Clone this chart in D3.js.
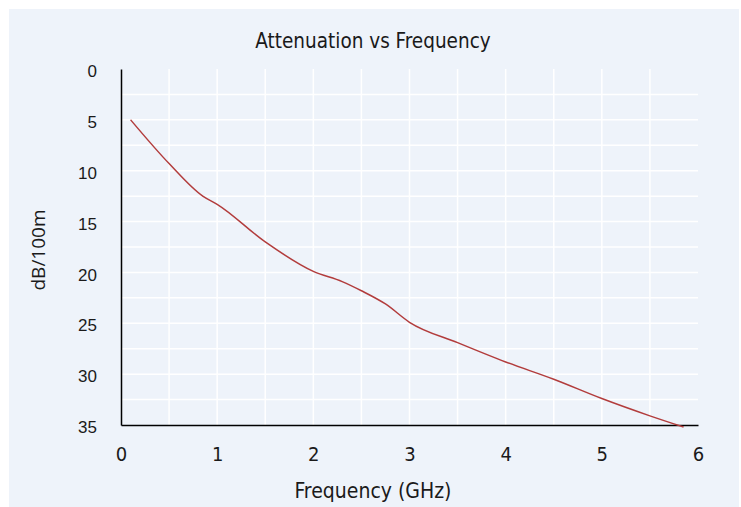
<!DOCTYPE html>
<html>
  <head>
    <meta charset="utf-8">
    <style type="text/css">
      body { margin: 0; background: #ffffff; }
      svg { display: block; }
      .title, .xlab, .x.axis text {
        font-family: "DejaVu Sans", sans-serif;
        font-stretch: condensed;
        fill: #1a1a1a;
      }
      .y.axis text {
        font-family: "Liberation Sans", Arial, sans-serif;
        fill: #1a1a1a;
      }
      .ylab {
        font-family: "Open Sans", sans-serif;
        fill: #1a1a1a;
      }
      .grid line { stroke: #ffffff; stroke-width: 1.5px; }
    </style>
  </head>
  <body>
    <script src="https://cdn.jsdelivr.net/npm/d3@7"></script>
    <svg id="chart"></svg>
    <script type="text/javascript">
// frequency in GHz, attenuation in dB/100m
var freq = [0.1, 0.5, 0.85, 1.0, 1.5, 2.0, 2.3, 2.5, 2.75, 3.0, 3.5, 4.0, 4.5, 5.0, 5.5, 5.85];
var atten = [5.0, 9.3, 12.5, 13.3, 17.0, 19.9, 20.9, 21.8, 23.1, 24.9, 26.9, 28.8, 30.5, 32.4, 34.1, 35.2];
var xTicks = [0, 1, 2, 3, 4, 5, 6];
var yTicks = [0, 5, 10, 15, 20, 25, 30, 35];

var width = 741, height = 507;
var margin = { top: 69, right: 43, bottom: 82, left: 121 };
var w = width - margin.left - margin.right;
var h = height - margin.top - margin.bottom;

var root = d3.select("#chart")
  .attr("width", width)
  .attr("height", height);

root.append("rect")
  .attr("x", 9).attr("y", 9)
  .attr("width", 730).attr("height", 498)
  .attr("fill", "#eef3fa");

root.append("text")
  .attr("class", "title")
  .attr("x", 373).attr("y", 48)
  .attr("text-anchor", "middle")
  .style("font-size", "20.5px")
  .text("Attenuation vs Frequency");

var svg = root.append("g")
  .attr("transform", "translate(" + margin.left + "," + margin.top + ")");

var x = d3.scaleLinear().domain([0, 6]).range([0, w]);
var y = d3.scaleLinear().domain([0, 35]).range([0, h]);

// grid
var grid = svg.append("g").attr("class", "grid");
grid.selectAll(".vg").data(d3.range(0.5, 6, 0.5)).enter()
  .append("line")
  .attr("x1", function(d) { return x(d); })
  .attr("x2", function(d) { return x(d); })
  .attr("y1", 0).attr("y2", h);
grid.selectAll(".hg").data(d3.range(2.5, 35, 2.5)).enter()
  .append("line")
  .attr("x1", 0).attr("x2", w)
  .attr("y1", function(d) { return y(d); })
  .attr("y2", function(d) { return y(d); });

// axes
var xAxis = d3.axisBottom(x).tickValues(xTicks).tickSize(0).tickPadding(22)
  .tickFormat(d3.format("d"));
var xg = svg.append("g")
  .attr("class", "x axis")
  .attr("transform", "translate(0," + h + ")")
  .call(xAxis);
xg.select(".domain").attr("stroke", "#000").attr("stroke-width", 1.5);
xg.selectAll("text").style("font-size", "20px");

var yAxis = d3.axisLeft(y).tickValues(yTicks).tickSize(0).tickPadding(24);
var yg = svg.append("g")
  .attr("class", "y axis")
  .call(yAxis);
yg.select(".domain").attr("stroke", "#000").attr("stroke-width", 1.5);
yg.selectAll("text").style("font-size", "17px").attr("dy", "0.45em");

root.append("text")
  .attr("class", "xlab")
  .attr("x", 373).attr("y", 498)
  .attr("text-anchor", "middle")
  .style("font-size", "21px")
  .text("Frequency (GHz)");

root.append("text")
  .attr("class", "ylab")
  .attr("transform", "translate(45,250) rotate(-90)")
  .attr("text-anchor", "middle")
  .style("font-size", "19px")
  .text("dB/100m");

// curve
var pts = freq.map(function(f, i) { return [f, atten[i]]; });
var line = d3.line()
  .x(function(d) { return x(d[0]); })
  .y(function(d) { return y(d[1]); })
  .curve(d3.curveMonotoneX);

svg.append("path")
  .datum(pts)
  .attr("d", line)
  .attr("fill", "none")
  .attr("stroke", "#b23c3c")
  .attr("stroke-width", 1.5);
    </script>
  </body>
</html>
